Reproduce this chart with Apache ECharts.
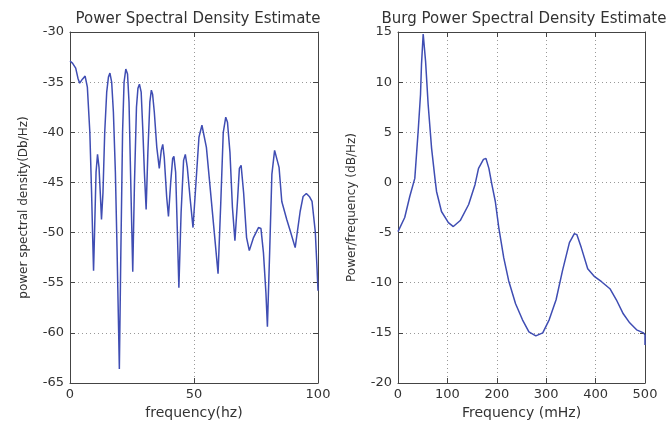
<!DOCTYPE html>
<html>
<head>
<meta charset="utf-8">
<script src="https://cdn.jsdelivr.net/npm/echarts@6/dist/echarts.min.js"></script>
<style>
  html, body { margin: 0; padding: 0; background: #fff; }
  #chart { width: 667px; height: 425px; }
</style>
</head>
<body>
<div id="chart"></div>
<script>
// left panel: periodogram, frequency in hz
const leftFreq = [0, 1, 2.3, 3.2, 3.9, 5, 6.1, 7, 8, 8.7, 9.2, 9.5, 9.9, 10.5, 11.1, 11.7, 12.2, 12.7,
  13.3, 14, 14.8, 15.5, 16.1, 16.8, 17.5, 18.3, 19, 19.9, 20.5, 21.2, 21.8, 22.5, 23.2, 23.8, 24.5,
  25.3, 26, 26.8, 27.4, 28, 28.7, 29.4, 30, 30.7, 31.4, 32.2, 32.8, 33.3, 34, 35, 36, 36.8, 37.4,
  38, 39, 39.7, 40.6, 41.4, 41.9, 42.6, 43.3, 43.9, 44.8, 45.8, 46.5, 47.3, 48.4, 49.6, 50.8, 52,
  53.2, 53.9, 55, 56.5, 58, 59.7, 60.8, 61.8, 62.8, 63.5, 64.5, 65.5, 66.5, 67.5, 68.3, 69, 70,
  71.2, 72.3, 74, 76, 77, 78, 79, 79.6, 80.5, 81.4, 82.5, 83.3, 84.3, 85.4, 87.4, 89, 90.8, 92.8,
  94, 95.3, 96.5, 97.6, 98.9, 99.6, 100];
const leftPsd = [-32.9, -33.1, -33.6, -34.6, -35.1, -34.7, -34.4, -35.5, -40, -46, -51, -53.8, -50,
  -44, -42.2, -43.5, -46, -48.7, -46, -40, -36, -34.5, -34.1, -35, -38, -44, -52, -63.6, -52, -40,
  -35, -33.7, -34.2, -37, -45, -53.9, -45, -37.5, -35.6, -35.2, -36, -40, -44, -47.7, -42, -37,
  -35.8, -36.2, -38, -41.5, -43.6, -41.8, -41.2, -42.5, -46.5, -48.4, -45, -42.6, -42.4, -44, -50,
  -55.5, -48, -42.8, -42.2, -43.5, -46.5, -49.5, -45, -40.5, -39.3, -39.4, -41.5, -45.5, -49.5,
  -54.1, -47, -40, -38.5, -39, -42, -47.5, -50.8, -47, -43.6, -43.3, -46, -50.5, -51.8, -50.5,
  -49.5, -49.6, -52, -56, -59.4, -52, -44.2, -41.8, -41.7, -43.5, -46.9, -48.7, -50, -51.5, -47.9,
  -46.4, -46.1, -46.4, -46.9, -49.9, -53.5, -55.8];

// right panel: burg estimate, frequency in mHz
const rightFreq = [0, 13.6, 23.8, 34, 40.8, 45.6, 47.6, 51, 52.4, 55.8, 61, 68, 74.8, 78, 88, 102,
  112, 126, 143, 156, 163, 173, 178, 184, 190, 197, 204, 214, 224, 238, 252, 265, 279, 293, 306,
  320, 333, 347, 357, 362, 371, 384, 398, 412, 429, 442, 456, 469, 483, 497, 500, 500];
const rightPsd = [-4.9, -3.5, -1.4, 0.4, 5.1, 8.8, 11.8, 14.8, 14.9, 12.1, 7.8, 3.4, 0.4, -0.9,
  -2.9, -4.0, -4.4, -3.8, -2.2, -0.2, 1.4, 2.3, 2.4, 1.4, -0.2, -1.9, -4.5, -7.5, -9.8, -12.1,
  -13.7, -14.9, -15.3, -15.0, -13.7, -11.7, -8.8, -6.0, -5.1, -5.2, -6.5, -8.6, -9.4, -9.9, -10.6,
  -11.7, -13.1, -14.0, -14.7, -15.0, -15.2, -16.2];

const lineColor = '#3f4db3';
const font = 'DejaVu Sans';

const zip = (xs, ys) => xs.map((x, i) => [x, ys[i]]);

const chart = echarts.init(document.getElementById('chart'));

function bottomX(grid, min, max, interval, name) {
  return {
    type: 'value', gridIndex: grid, position: 'bottom', min, max, interval,
    name, nameLocation: 'middle', nameGap: 22,
    nameTextStyle: { fontFamily: font, fontSize: 14, color: '#333' },
    axisLine: { show: true, onZero: false, lineStyle: { color: '#444', width: 1 } },
    axisTick: { show: true, inside: true, length: 5, lineStyle: { color: '#444' } },
    axisLabel: { fontFamily: font, fontSize: 13, color: '#333', margin: 5 },
    splitLine: { show: true, lineStyle: { type: [1, 3], color: '#999' } }
  };
}

function topX(grid, min, max, interval) {
  return {
    type: 'value', gridIndex: grid, position: 'top', min, max, interval,
    axisLine: { show: true, onZero: false, lineStyle: { color: '#444', width: 1 } },
    axisTick: { show: true, inside: true, length: 5, lineStyle: { color: '#444' } },
    axisLabel: { show: false },
    splitLine: { show: false }
  };
}

function leftY(grid, min, max, interval, name) {
  return {
    type: 'value', gridIndex: grid, position: 'left', min, max, interval,
    name, nameLocation: 'middle', nameGap: 40, nameRotate: 90,
    nameTextStyle: { fontFamily: font, fontSize: 12, color: '#333' },
    axisLine: { show: true, onZero: false, lineStyle: { color: '#444', width: 1 } },
    axisTick: { show: true, inside: true, length: 5, lineStyle: { color: '#444' } },
    axisLabel: { fontFamily: font, fontSize: 13, color: '#333', margin: 6 },
    splitLine: { show: true, lineStyle: { type: [1, 3], color: '#999' } }
  };
}

function rightY(grid, min, max, interval) {
  return {
    type: 'value', gridIndex: grid, position: 'right', min, max, interval,
    axisLine: { show: true, onZero: false, lineStyle: { color: '#444', width: 1 } },
    axisTick: { show: true, inside: true, length: 5, lineStyle: { color: '#444' } },
    axisLabel: { show: false },
    splitLine: { show: false }
  };
}

chart.setOption({
  animation: false,
  title: [
    { text: 'Power Spectral Density Estimate', left: 193, top: 7, textAlign: 'center',
      textStyle: { fontFamily: font, fontSize: 15, fontWeight: 'normal', color: '#333' } },
    { text: 'Burg Power Spectral Density Estimate', left: 519, top: 7, textAlign: 'center',
      textStyle: { fontFamily: font, fontSize: 15, fontWeight: 'normal', color: '#333' } }
  ],
  grid: [
    { left: 70, right: 349, top: 32, bottom: 42 },
    { left: 398, right: 22, top: 32, bottom: 42 }
  ],
  xAxis: [
    bottomX(0, 0, 100, 50, 'frequency(hz)'),
    topX(0, 0, 100, 50),
    bottomX(1, 0, 500, 100, 'Frequency (mHz)'),
    topX(1, 0, 500, 100)
  ],
  yAxis: [
    leftY(0, -65, -30, 5, 'power spectral density(Db/Hz)'),
    rightY(0, -65, -30, 5),
    leftY(1, -20, 15, 5, 'Power/frequency (dB/Hz)'),
    rightY(1, -20, 15, 5)
  ],
  series: [
    { type: 'line', xAxisIndex: 0, yAxisIndex: 0, data: zip(leftFreq, leftPsd),
      showSymbol: false, lineStyle: { color: lineColor, width: 1.5 } },
    { type: 'line', xAxisIndex: 2, yAxisIndex: 2, data: zip(rightFreq, rightPsd),
      showSymbol: false, lineStyle: { color: lineColor, width: 1.5 } }
  ]
});
</script>
</body>
</html>
